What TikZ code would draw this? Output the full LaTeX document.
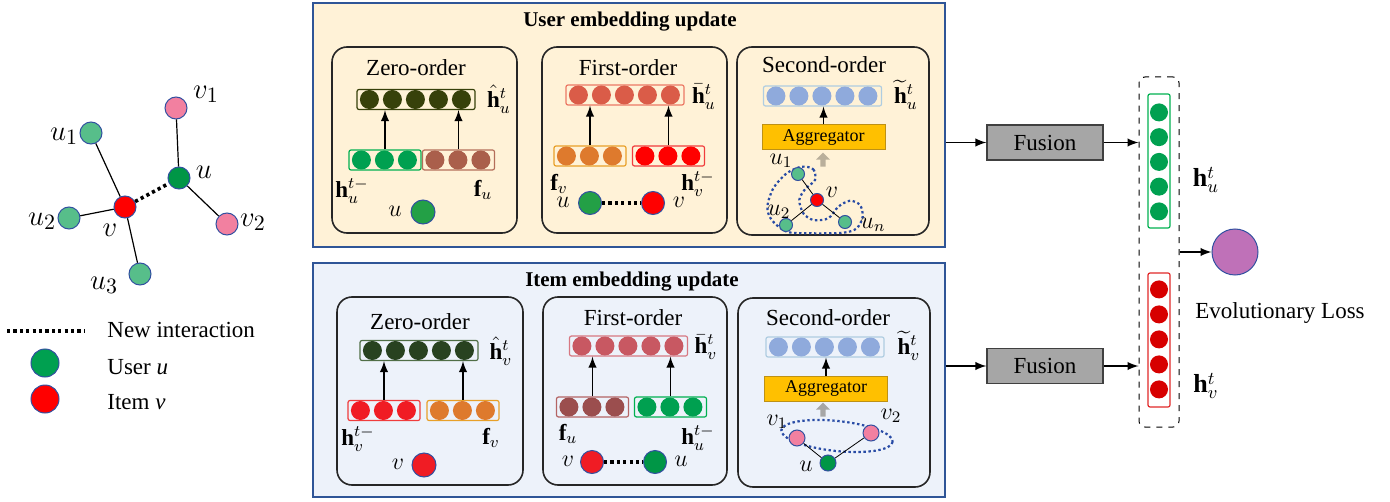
\documentclass[tikz,border=0pt]{standalone}
\usepackage{fontspec}
\setmainfont{Liberation Serif}
\usepackage{amsmath}
\usetikzlibrary{shapes,arrows,positioning,calc}

\definecolor{userbg}{RGB}{255,242,215}
\definecolor{itembg}{RGB}{237,242,250}
\definecolor{panelblue}{RGB}{47,85,151}
\definecolor{rimblue}{RGB}{50,80,160}
\definecolor{ringblue}{RGB}{40,75,165}
\definecolor{zeroolive}{RGB}{55,65,10}
\definecolor{ugreen}{RGB}{0,160,80}
\definecolor{ugreenf}{RGB}{0,176,80}
\definecolor{featbrown}{RGB}{170,95,75}
\definecolor{featbrownf}{RGB}{180,110,90}
\definecolor{firstsalmon}{RGB}{218,92,72}
\definecolor{firstsalmonf}{RGB}{236,120,100}
\definecolor{featorange}{RGB}{222,122,45}
\definecolor{featorangef}{RGB}{232,160,40}
\definecolor{hred}{RGB}{255,0,0}
\definecolor{hredf}{RGB}{240,60,60}
\definecolor{secblue}{RGB}{143,170,220}
\definecolor{secbluef}{RGB}{175,205,225}
\definecolor{agggold}{RGB}{255,192,0}
\definecolor{agggoldf}{RGB}{190,145,20}
\definecolor{zerodgreen}{RGB}{40,66,32}
\definecolor{zerodgreenf}{RGB}{80,110,70}
\definecolor{ired}{RGB}{240,28,36}
\definecolor{firstrose}{RGB}{200,88,98}
\definecolor{firstrosef}{RGB}{215,120,130}
\definecolor{ibrown}{RGB}{155,78,78}
\definecolor{ibrownf}{RGB}{180,100,100}
\definecolor{nbgreen}{RGB}{87,190,138}
\definecolor{nbdark}{RGB}{0,150,70}
\definecolor{nbpink}{RGB}{242,128,160}
\definecolor{nodegreen}{RGB}{35,160,70}
\definecolor{fusegray}{RGB}{166,166,166}
\definecolor{losspurple}{RGB}{191,113,184}
\definecolor{upgray}{RGB}{185,175,155}
\definecolor{vecred}{RGB}{215,0,0}
\definecolor{vecredf}{RGB}{225,40,40}

% embedding vector: name, centre, number of cells, cell colour, frame colour
\newcommand{\embvec}[5]{%
  \node[vecbox, draw=#5, minimum width={#3*11.5pt+1.5pt}, minimum height=10pt] (#1) at (#2) {};
  \foreach \k in {1,...,#3}
    \node[cell, fill=#4] at ($(#1.west)+({\k*23-10},0)$) {};
}

\begin{document}
\begin{tikzpicture}[
    x=0.5pt, y=-0.5pt,
    every node/.style={font=\fontsize{11.5}{13.8}\selectfont, inner sep=1pt},
    panel/.style={draw=panelblue, line width=0.8pt, inner sep=0pt},
    stage/.style={draw=black!85, rounded corners=7.5pt, line width=0.8pt},
    vecbox/.style={rectangle, rounded corners=1pt, line width=0.6pt, inner sep=0pt},
    cell/.style={circle, inner sep=0pt, minimum size=9.5pt},
    gnode/.style={circle, draw=rimblue, line width=0.5pt, inner sep=0pt, minimum size=11pt},
    snode/.style={gnode, minimum size=6.5pt},
    lbl/.style={font=\fontsize{13}{15}\selectfont},
    glbl/.style={font=\fontsize{15}{17}\selectfont},
    feed/.style={-latex, line width=0.9pt},
    link/.style={line width=0.6pt},
    newlink/.style={line width=1.8pt, dash pattern=on 1.6pt off 1.6pt},
    hopring/.style={ringblue, line width=1.1pt, dash pattern=on 1.2pt off 1.3pt},
    aggbox/.style={draw=agggoldf, fill=agggold, line width=0.5pt, minimum width=61.5pt, minimum height=12.5pt, inner sep=0pt, font=\fontsize{9}{11}\selectfont},
    uparrow/.style={single arrow, fill=upgray, shape border rotate=90, minimum height=7pt, minimum width=7pt, single arrow head extend=1.2pt, inner sep=0.5pt},
    fusebox/.style={draw=black!75, fill=fusegray, line width=0.6pt, minimum width=58pt, minimum height=17.5pt}
]
    \useasboundingbox (0,0) rectangle (1390,502);

    % interaction graph
    \node[gnode, fill=nbpink] (gv1) at (176,108) {};
    \node[gnode, fill=nbgreen] (gu1) at (91,133) {};
    \node[gnode, fill=nbdark] (gu) at (179,178) {};
    \node[gnode, fill=hred] (gv) at (125,207) {};
    \node[gnode, fill=nbgreen] (gu2) at (69,218) {};
    \node[gnode, fill=nbpink] (gv2) at (227,224) {};
    \node[gnode, fill=nbgreen] (gu3) at (140,274) {};
    \draw[link] (gu1) -- (gv);
    \draw[link] (gu2) -- (gv);
    \draw[link] (gu3) -- (gv);
    \draw[link] (gv1) -- (gu);
    \draw[link] (gu) -- (gv2);
    \draw[newlink] (gv) -- (gu);
    \node[glbl] at (206,94) {$v_1$};
    \node[glbl] at (64,136) {$u_1$};
    \node[glbl] at (204,172) {$u$};
    \node[glbl] at (42,221) {$u_2$};
    \node[glbl] at (110,230) {$v$};
    \node[glbl] at (253,222) {$v_2$};
    \node[glbl] at (104,285) {$u_3$};

    % legend
    \coordinate (lgA) at (7,331);
    \coordinate (lgB) at (85,331);
    \draw[newlink] (lgA) -- (lgB);
    \node[anchor=west] (lgnew) at (105,330) {New interaction};
    \node[gnode, fill=ugreen, minimum size=14pt] (lguser) at (45,363) {};
    \node[anchor=west] (lgusertext) at (105,367) {User \textit{u}};
    \node[gnode, fill=hred, minimum size=14pt] (lgitem) at (45,399) {};
    \node[anchor=west] (lgitemtext) at (105,402) {Item \textit{v}};

    % user embedding update
    \node[panel, fill=userbg, minimum width=316pt, minimum height=122pt] (userpanel) at (629,125) {};
    \node[font=\fontsize{10.5}{12}\selectfont\bfseries] at (630,22) {User embedding update};

    \draw[stage] (332,47) rectangle (517,233);
    \node at (416,68) {Zero-order};
    \embvec{uzT}{416,99.5}{5}{zeroolive}{zeroolive}
    \embvec{uzL}{385,160}{3}{ugreen}{ugreenf}
    \embvec{uzR}{458.5,160}{3}{featbrown}{featbrownf}
    \draw[feed] (uzL.north) -- (uzL.north |- uzT.south);
    \draw[feed] (uzR.north) -- (uzR.north |- uzT.south);
    \node at (499,99) {$\hat{\mathbf{h}}_u^t$};
    \node at (352,191) {$\mathbf{h}_u^{t-}$};
    \node at (483,190) {$\mathbf{f}_u$};
    \node[lbl] at (395,211) {$u$};
    \node[gnode, fill=nodegreen, minimum size=12pt] (uzU) at (423,212) {};

    \draw[stage] (542,47) rectangle (727,233);
    \node at (628,68) {First-order};
    \embvec{ufT}{625,95}{5}{firstsalmon}{firstsalmonf}
    \embvec{ufL}{590,156}{3}{featorange}{featorangef}
    \embvec{ufR}{668.5,156}{3}{hred}{hredf}
    \draw[feed] (ufL.north) -- (ufL.north |- ufT.south);
    \draw[feed] (ufR.north) -- (ufR.north |- ufT.south);
    \node at (704,97) {$\bar{\mathbf{h}}_u^t$};
    \node at (559,184) {$\mathbf{f}_v$};
    \node at (698,184) {$\mathbf{h}_v^{t-}$};
    \node[lbl] at (563,202) {$u$};
    \node[gnode, fill=nodegreen, minimum size=11.5pt] (ufU) at (590,203) {};
    \node[gnode, fill=hred, minimum size=11.5pt] (ufV) at (653,203) {};
    \node[lbl] at (679,202) {$v$};
    \draw[newlink] (ufU) -- (ufV);

    \draw[stage] (737,47) rectangle (929,235);
    \node at (824,65) {Second-order};
    \embvec{usT}{822.5,96}{5}{secblue}{secbluef}
    \node[aggbox] (usAgg) at (823.5,137.5) {Aggregator};
    \draw[feed] (usAgg.north) -- (usAgg.north |- usT.south);
    \node[uparrow] (usUp) at (823,161) {};
    \node at (906,95) {$\widetilde{\mathbf{h}}_u^t$};
    \draw[hopring] plot[smooth cycle] coordinates {(801.7,166.7) (813.3,169.3) (815,180) (805,189.3)
        (799.3,200) (803.3,213.3) (813.3,220) (828.3,218.3) (838.3,206.7) (850,200.7) (860,205)
        (862.7,216.7) (856.7,228.3) (843.3,232.7) (810,233.3) (786.7,231.7) (771.7,220)
        (767.3,206.7) (773.3,188.3) (786.7,173.3)};
    \node[snode, fill=nbgreen] (su1) at (798,174) {};
    \node[snode, fill=hred] (sv) at (817,200) {};
    \node[snode, fill=nbgreen] (su2) at (786,225) {};
    \node[snode, fill=nbgreen] (sun) at (845,222) {};
    \draw[link, line width=0.4pt] (sv) -- (su1);
    \draw[link, line width=0.4pt] (sv) -- (su2);
    \draw[link, line width=0.4pt] (sv) -- (sun);
    \node at (781,161) {$u_1$};
    \node at (832,192) {$v$};
    \node at (779,212) {$u_2$};
    \node at (873,225) {$u_n$};

    % item embedding update
    \node[panel, fill=itembg, minimum width=316pt, minimum height=117pt] (itempanel) at (629,380) {};
    \node[font=\fontsize{10.5}{12}\selectfont\bfseries] at (632,282) {Item embedding update};

    \draw[stage] (337,297) rectangle (523,485);
    \node at (420,322) {Zero-order};
    \embvec{izT}{419,350.5}{5}{zerodgreen}{zerodgreenf}
    \embvec{izL}{384,410.5}{3}{ired}{hredf}
    \embvec{izR}{463,410.5}{3}{featorange}{featorangef}
    \draw[feed] (izL.north) -- (izL.north |- izT.south);
    \draw[feed] (izR.north) -- (izR.north |- izT.south);
    \node at (501,351) {$\hat{\mathbf{h}}_v^t$};
    \node at (358,439) {$\mathbf{h}_v^{t-}$};
    \node at (491,438) {$\mathbf{f}_v$};
    \node[lbl] at (398,464) {$v$};
    \node[gnode, fill=ired, minimum size=12pt] (izV) at (424,465) {};

    \draw[stage] (543,297) rectangle (727,485);
    \node at (633,318) {First-order};
    \embvec{ifT}{628.5,346}{5}{firstrose}{firstrosef}
    \embvec{ifL}{592.5,407}{3}{ibrown}{ibrownf}
    \embvec{ifR}{670.5,407}{3}{ugreen}{ugreenf}
    \draw[feed] (ifL.north) -- (ifL.north |- ifT.south);
    \draw[feed] (ifR.north) -- (ifR.north |- ifT.south);
    \node at (706,347) {$\bar{\mathbf{h}}_v^t$};
    \node at (568,434) {$\mathbf{f}_u$};
    \node at (698,438) {$\mathbf{h}_u^{t-}$};
    \node[lbl] at (568,461) {$v$};
    \node[gnode, fill=ired, minimum size=11.5pt] (ifV) at (592,462) {};
    \node[gnode, fill=nbdark, minimum size=11.5pt] (ifU) at (655,462) {};
    \node[lbl] at (681,461) {$u$};
    \draw[newlink] (ifV) -- (ifU);

    \draw[stage] (738,298) rectangle (930,487);
    \node at (828,318) {Second-order};
    \embvec{isT}{825,347}{5}{secblue}{secbluef}
    \node[aggbox] (isAgg) at (826,388.5) {Aggregator};
    \draw[feed] (isAgg.north) -- (isAgg.north |- isT.south);
    \node[uparrow, fill=black!35] (isUp) at (823,411) {};
    \node at (909,346) {$\widetilde{\mathbf{h}}_v^t$};
    \draw[hopring, rotate around={-6:(837,436)}] (837,436) ellipse [x radius=56, y radius=15];
    \node[snode, fill=nbpink, minimum size=8pt] (sv1) at (797,438) {};
    \node[snode, fill=nbpink, minimum size=8pt] (sv2) at (871,433) {};
    \node[snode, fill=nbdark, minimum size=8pt] (su) at (828,463) {};
    \draw[link, line width=0.4pt] (su) -- (sv1);
    \draw[link, line width=0.4pt] (su) -- (sv2);
    \node at (777,422) {$v_1$};
    \node at (891,416) {$v_2$};
    \node at (806,466) {$u$};

    % fusion and loss
    \node[fusebox] (fuseu) at (1045,142.5) {Fusion};
    \node[fusebox] (fusev) at (1045,366) {Fusion};
    \node[draw, dashed, rounded corners=3pt, line width=0.5pt, minimum width=20pt, minimum height=175pt] (stack) at (1159,252) {};
    \node[vecbox, draw=ugreenf, minimum width=11pt, minimum height=67pt] (hu) at (1159,161) {};
    \foreach \k in {0,...,4}
      \node[cell, minimum size=9pt, fill=ugreen] at ($(hu.north)+(0,{19+24.75*\k})$) {};
    \node[vecbox, draw=vecredf, minimum width=11pt, minimum height=67pt] (hv) at (1159,340) {};
    \foreach \k in {0,...,4}
      \node[cell, minimum size=9pt, fill=vecred] at ($(hv.north)+(0,{17+25*\k})$) {};
    \node[lbl] at (1206,180) {$\mathbf{h}_u^t$};
    \node[lbl] at (1206,386) {$\mathbf{h}_v^t$};
    \node[gnode, fill=losspurple, minimum size=23pt] (loss) at (1235,252) {};
    \node (losstext) at (1280,313) {Evolutionary Loss};
    \draw[feed] (userpanel.east |- fuseu.west) -- (fuseu.west);
    \draw[feed] (fuseu.east) -- (fuseu.east -| stack.west);
    \draw[feed] (itempanel.east |- fusev.west) -- (fusev.west);
    \draw[feed] (fusev.east) -- (fusev.east -| stack.west);
    \draw[feed] (stack.east |- loss.west) -- (loss.west);
\end{tikzpicture}
\end{document}
